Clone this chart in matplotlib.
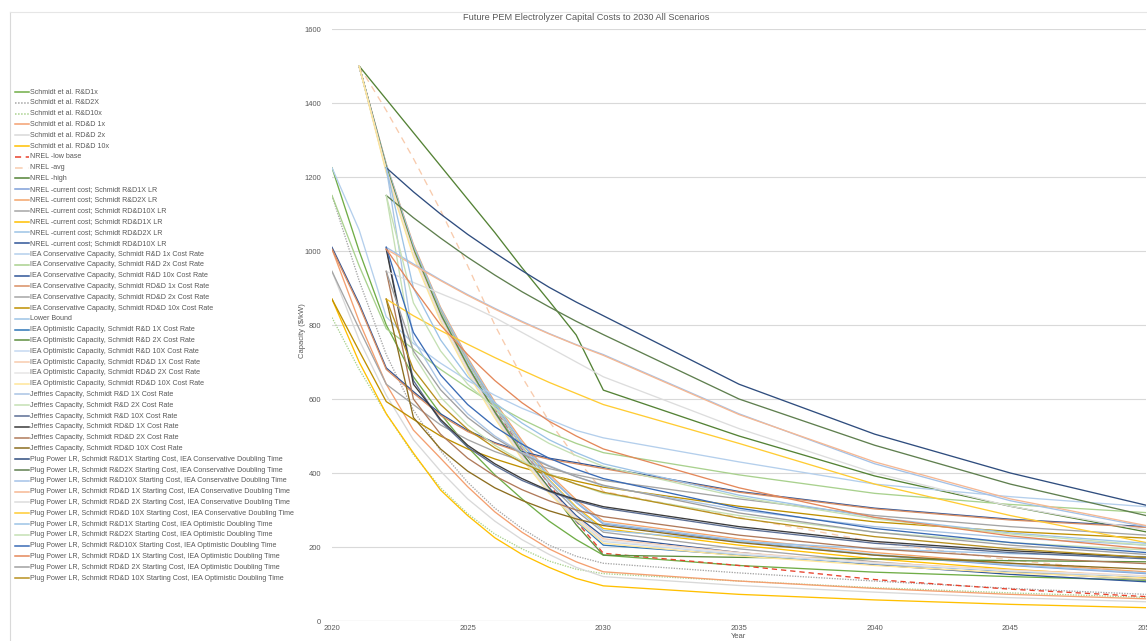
import matplotlib
matplotlib.use("Agg")
import matplotlib.pyplot as plt
from matplotlib.lines import Line2D

plt.rcParams['font.family'] = ['Liberation Sans Narrow', 'Liberation Sans', 'DejaVu Sans']

# ---------------- data ----------------
YEARS_2020 = [2020, 2021, 2022, 2023, 2024, 2025, 2026, 2027, 2028, 2029, 2030, 2035, 2040, 2045, 2050]
YEARS_2021 = [2021, 2022, 2023, 2024, 2025, 2026, 2027, 2028, 2029, 2030, 2035, 2040, 2045, 2050]
YEARS_2022 = [2022, 2023, 2024, 2025, 2026, 2027, 2028, 2029, 2030, 2035, 2040, 2045, 2050]

SCHMIDT_LABELS = ["Schmidt et al. R&D1x", "Schmidt et al. R&D2X", "Schmidt et al. R&D10x",
                  "Schmidt et al. RD&D 1x", "Schmidt et al. RD&D 2x", "Schmidt et al. RD&D 10x"]
SCHMIDT_VALUES = [
    [1225, 1000, 800, 660, 560, 470, 395, 330, 270, 220, 178, 150, 132, 120, 110],
    [1150, 920, 720, 570, 460, 375, 305, 250, 205, 175, 156, 130, 108, 88, 72],
    [820, 680, 560, 450, 360, 290, 235, 195, 162, 140, 128, 108, 90, 76, 64],
    [1005, 810, 640, 516, 440, 363, 295, 240, 195, 160, 133, 108, 88, 72, 60],
    [945, 760, 610, 490, 405, 330, 270, 220, 180, 145, 120, 96, 78, 63, 52],
    [870, 700, 560, 454, 354, 285, 225, 180, 145, 115, 95, 72, 57, 45, 36],
]

NREL_LABELS = ["NREL -low base", "NREL -avg", "NREL -high"]
NREL_VALUES = [
    [1500, 1230, 1010, 840, 700, 575, 465, 370, 270, 183, 150, 112, 86, 66],
    [1500, 1380, 1250, 1110, 960, 800, 660, 540, 440, 350, 280, 214, 165, 130],
    [1500, 1410, 1320, 1230, 1140, 1050, 955, 865, 773, 624, 500, 392, 310, 241],
]

NREL_CC_LABELS = ["NREL -current cost; Schmidt R&D1X LR", "NREL -current cost; Schmidt R&D2X LR",
                  "NREL -current cost; Schmidt RD&D10X LR", "NREL -current cost; Schmidt RD&D1X LR",
                  "NREL -current cost; Schmidt RD&D2X LR", "NREL -current cost; Schmidt RD&D10X LR"]
NREL_CC_VALUES = [
    [1500, 1232, 1012, 842, 705, 585, 480, 390, 320, 262, 215, 178, 150, 128],
    [1500, 1235, 1018, 848, 712, 592, 488, 398, 328, 270, 222, 185, 156, 133],
    [1500, 1225, 1000, 828, 690, 568, 462, 372, 298, 240, 195, 160, 133, 112],
    [1500, 1230, 1008, 838, 700, 578, 472, 382, 308, 250, 205, 168, 140, 118],
    [1500, 1234, 1015, 845, 708, 588, 482, 392, 322, 265, 218, 180, 152, 130],
    [1500, 1220, 995, 820, 682, 560, 452, 360, 285, 228, 185, 152, 126, 106],
]

IEA_CONS_LABELS = ["IEA Conservative Capacity, Schmidt R&D 1x Cost Rate",
                   "IEA Conservative Capacity, Schmidt R&D 2x Cost Rate",
                   "IEA Conservative Capacity, Schmidt R&D 10x Cost Rate",
                   "IEA Conservative Capacity, Schmidt RD&D 1x Cost Rate",
                   "IEA Conservative Capacity, Schmidt RD&D 2x Cost Rate",
                   "IEA Conservative Capacity, Schmidt RD&D 10x Cost Rate"]
IEA_CONS_VALUES = [
    [1225, 1057, 822, 750, 697, 650, 610, 575, 545, 515, 495, 430, 370, 336, 309],
    [1150, 960, 790, 735, 680, 630, 585, 545, 510, 480, 455, 395, 345, 315, 293],
    [1010, 858, 684, 620, 560, 515, 482, 458, 440, 428, 415, 350, 305, 275, 255],
    [1005, 853, 680, 616, 556, 512, 480, 455, 437, 425, 412, 348, 303, 273, 253],
    [945, 790, 640, 585, 530, 490, 458, 432, 412, 395, 380, 330, 285, 255, 232],
    [870, 730, 593, 545, 500, 465, 438, 415, 395, 378, 362, 310, 268, 242, 224],
]

LOWER_LABEL = "Lower Bound"
LOWER_VALUES = [1500, 1228, 1005, 835, 698, 578, 470, 380, 305, 245, 215, 195, 182, 174]

IEA_OPT_LABELS = ["IEA Optimistic Capacity, Schmidt R&D 1X Cost Rate",
                  "IEA Optimistic Capacity, Schmidt R&D 2X Cost Rate",
                  "IEA Optimistic Capacity, Schmidt R&D 10X Cost Rate",
                  "IEA Optimistic Capacity, Schmidt RD&D 1X Cost Rate",
                  "IEA Optimistic Capacity, Schmidt RD&D 2X Cost Rate",
                  "IEA Optimistic Capacity, Schmidt RD&D 10X Cost Rate"]
IEA_OPT_VALUES = [
    [1500, 1225, 1000, 825, 685, 560, 450, 355, 270, 205, 178, 155, 135, 120],
    [1500, 1228, 1005, 830, 690, 565, 455, 358, 260, 178, 172, 168, 163, 160],
    [1500, 1215, 990, 815, 675, 552, 442, 350, 275, 215, 180, 155, 135, 120],
    [1500, 1222, 998, 822, 682, 558, 448, 354, 280, 222, 185, 158, 138, 122],
    [1500, 1218, 993, 818, 678, 555, 445, 352, 278, 218, 183, 157, 136, 121],
    [1500, 1212, 985, 810, 670, 548, 438, 345, 272, 210, 176, 150, 130, 115],
]

JEFF_LABELS = ["Jeffries Capacity, Schmidt R&D 1X Cost Rate", "Jeffries Capacity, Schmidt R&D 2X Cost Rate",
               "Jeffries Capacity, Schmidt R&D 10X Cost Rate", "Jeffries Capacity, Schmidt RD&D 1X Cost Rate",
               "Jeffries Capacity, Schmidt RD&D 2X Cost Rate", "Jeffries Capacity, Schmidt RD&D 10X Cost Rate"]
JEFF_VALUES = [
    [1225, 760, 640, 560, 500, 455, 420, 390, 365, 300, 255, 225, 205],
    [1150, 720, 605, 530, 475, 432, 398, 370, 345, 285, 240, 212, 192],
    [1010, 650, 540, 470, 420, 380, 350, 325, 305, 250, 210, 185, 168],
    [1005, 640, 545, 475, 425, 385, 352, 328, 309, 255, 215, 190, 172],
    [945, 600, 505, 440, 392, 355, 325, 300, 282, 232, 195, 172, 155],
    [870, 550, 465, 405, 360, 326, 298, 276, 258, 212, 178, 156, 140],
]

PLUG_CONS_LABELS = ["Plug Power LR, Schmidt R&D1X Starting Cost, IEA Conservative Doubling Time",
                    "Plug Power LR, Schmidt R&D2X Starting Cost, IEA Conservative Doubling Time",
                    "Plug Power LR, Schmidt R&D10X Starting Cost, IEA Conservative Doubling Time",
                    "Plug Power LR, Schmidt RD&D 1X Starting Cost, IEA Conservative Doubling Time",
                    "Plug Power LR, Schmidt RD&D 2X Starting Cost, IEA Conservative Doubling Time",
                    "Plug Power LR, Schmidt RD&D 10X Starting Cost, IEA Conservative Doubling Time"]
PLUG_CONS_VALUES = [
    [1225, 1160, 1100, 1045, 995, 947, 902, 862, 825, 640, 505, 400, 313],
    [1150, 1090, 1035, 983, 935, 890, 849, 810, 774, 600, 475, 370, 285],
    [1010, 965, 922, 882, 845, 810, 777, 747, 720, 560, 425, 325, 255],
    [1005, 962, 920, 880, 843, 808, 776, 746, 718, 558, 430, 330, 258],
    [945, 915, 885, 855, 820, 780, 740, 700, 660, 520, 400, 310, 246],
    [870, 825, 785, 748, 712, 678, 645, 615, 585, 480, 370, 285, 212],
]

PLUG_OPT_LABELS = ["Plug Power LR, Schmidt R&D1X Starting Cost, IEA Optimistic Doubling Time",
                   "Plug Power LR, Schmidt R&D2X Starting Cost, IEA Optimistic Doubling Time",
                   "Plug Power LR, Schmidt R&D10X Starting Cost, IEA Optimistic Doubling Time",
                   "Plug Power LR, Schmidt RD&D 1X Starting Cost, IEA Optimistic Doubling Time",
                   "Plug Power LR, Schmidt RD&D 2X Starting Cost, IEA Optimistic Doubling Time",
                   "Plug Power LR, Schmidt RD&D 10X Starting Cost, IEA Optimistic Doubling Time"]
PLUG_OPT_VALUES = [
    [1225, 900, 760, 660, 590, 535, 490, 455, 425, 340, 280, 238, 210],
    [1150, 860, 730, 640, 575, 522, 480, 447, 418, 335, 276, 235, 205],
    [1010, 780, 665, 585, 525, 478, 440, 410, 385, 305, 250, 212, 185],
    [1005, 900, 800, 720, 650, 590, 540, 500, 465, 360, 280, 230, 195],
    [945, 730, 625, 550, 495, 452, 418, 390, 367, 292, 240, 205, 180],
    [870, 680, 585, 518, 468, 428, 396, 370, 348, 278, 228, 195, 172],
]

X_TICKS = [2020, 2025, 2030, 2035, 2040, 2045, 2050]
Y_TICKS = [0, 200, 400, 600, 800, 1000, 1200, 1400, 1600]

# ---------------- styles ----------------
SOLID = '-'
DOT = (0, (1, 1))
DASH = (0, (4, 3))
styles = {
    'schmidt': [('#70AD47', SOLID), ('#A5A5A5', DOT), ('#A9D18E', DOT),
                ('#F4A070', SOLID), ('#D9D9D9', SOLID), ('#FFC000', SOLID)],
    'nrel': [('#E8412C', DASH), ('#F8CBAD', (0, (5, 4))), ('#548235', SOLID)],
    'nrelcc': [('#7F9FD8', SOLID), ('#F4A46A', SOLID), ('#A5A5A5', SOLID),
               ('#FFC000', SOLID), ('#9DC3E6', SOLID), ('#2F5597', SOLID)],
    'ieacons': [('#B4CFEC', SOLID), ('#A9D18E', SOLID), ('#2F5597', SOLID),
                ('#D98E63', SOLID), ('#A5A5A5', SOLID), ('#BF9000', SOLID)],
    'lower': [('#9DC3E6', SOLID)],
    'ieaopt': [('#2E75B6', SOLID), ('#5E8E3E', SOLID), ('#C5D9F1', SOLID),
               ('#F8CBAD', SOLID), ('#E7E6E6', SOLID), ('#FFE699', SOLID)],
    'jeff': [('#A9C4E4', SOLID), ('#C5E0B4', SOLID), ('#5B6E94', SOLID),
             ('#3B3B3B', SOLID), ('#B07A5A', SOLID), ('#8C6D1F', SOLID)],
    'plugcons': [('#2F4D7E', SOLID), ('#5F7F4F', SOLID), ('#A4C2E8', SOLID),
                 ('#F6B893', SOLID), ('#DDDDDD', SOLID), ('#FFCC33', SOLID)],
    'plugopt': [('#9DC3E6', SOLID), ('#C5E0B4', SOLID), ('#3A6BB5', SOLID),
                ('#E4885A', SOLID), ('#A0A0A0', SOLID), ('#B8911F', SOLID)],
}

groups = [
    ('schmidt', YEARS_2020, SCHMIDT_LABELS, SCHMIDT_VALUES),
    ('nrel', YEARS_2021, NREL_LABELS, NREL_VALUES),
    ('nrelcc', YEARS_2021, NREL_CC_LABELS, NREL_CC_VALUES),
    ('ieacons', YEARS_2020, IEA_CONS_LABELS, IEA_CONS_VALUES),
    ('lower', YEARS_2021, [LOWER_LABEL], [LOWER_VALUES]),
    ('ieaopt', YEARS_2021, IEA_OPT_LABELS, IEA_OPT_VALUES),
    ('jeff', YEARS_2022, JEFF_LABELS, JEFF_VALUES),
    ('plugcons', YEARS_2022, PLUG_CONS_LABELS, PLUG_CONS_VALUES),
    ('plugopt', YEARS_2022, PLUG_OPT_LABELS, PLUG_OPT_VALUES),
]

W, H = 1147, 641
fig = plt.figure(figsize=(W / 100, H / 100), dpi=100)
fig.patch.set_facecolor('white')
ax = fig.add_axes([332 / W, 1 - 621 / H, (1146 - 332) / W, (621 - 29) / H])

TXT = '#595959'
entries = []
for key, years, labels, values in groups:
    for (col, ls), lab, vals in zip(styles[key], labels, values):
        ax.plot(years, vals, color=col, linestyle=ls, lw=0.95, solid_joinstyle='round')
        entries.append((lab, col, ls))

ax.set_xlim(2020, 2050)
ax.set_ylim(0, 1600)
ax.set_xticks(X_TICKS)
ax.set_yticks(Y_TICKS)
ax.set_xticklabels([str(t) for t in X_TICKS])
ax.set_yticklabels([str(t) for t in Y_TICKS])
ax.tick_params(axis='both', length=0, labelsize=5.5, labelcolor=TXT)
ax.tick_params(axis='y', pad=8)
ax.tick_params(axis='x', pad=3)
for s in ax.spines.values():
    s.set_visible(False)
ax.grid(axis='y', color='#D9D9D9', lw=0.8)
ax.set_axisbelow(True)
ax.axhline(0, color='#BFBFBF', lw=0.8, zorder=0.5)

fig.text(586 / W, 1 - 18 / H, "Future PEM Electrolyzer Capital Costs to 2030 All Scenarios",
         ha='center', va='center', fontsize=6.6, color=TXT)
fig.text(303 / W, 1 - 331 / H, "Capacity ($/kW)", rotation=90, ha='center', va='center',
         fontsize=5.5, color=TXT)
fig.text(739 / W, 1 - 636 / H, "Year", ha='center', va='center', fontsize=5.5, color=TXT)

# frame lines
fig.add_artist(Line2D([10 / W, 10 / W], [0, 1 - 12 / H], color='#D9D9D9', lw=0.8))
fig.add_artist(Line2D([10 / W, 1], [1 - 12 / H, 1 - 12 / H], color='#E6E6E6', lw=0.8))

# legend (manual)
y0, y1 = 92, 578
n = len(entries)
pitch = (y1 - y0) / (n - 1)
for i, (lab, col, ls) in enumerate(entries):
    yy = 1 - (y0 + i * pitch) / H
    fig.add_artist(Line2D([15 / W, 29 / W], [yy, yy], color=col, linestyle=ls, lw=1.1))
    fig.text(30 / W, yy, lab, ha='left', va='center', fontsize=5.1, color=TXT)

fig.savefig('out.png', dpi=100, facecolor='white')
